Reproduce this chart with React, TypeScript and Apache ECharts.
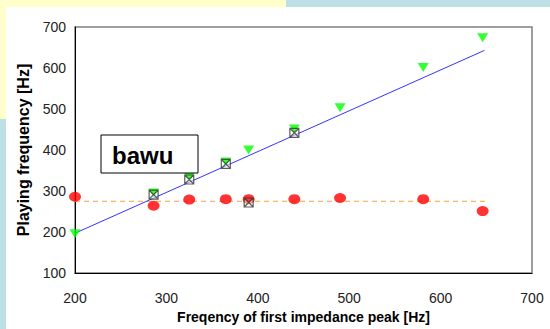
import React, { useEffect, useRef } from "react";
import * as echarts from "echarts";

const xTicks = [200, 300, 400, 500, 600, 700];
const yTicks = [100, 200, 300, 400, 500, 600, 700];

const redX = [200, 286, 325, 365, 390, 440, 490, 581, 646];
const redY = [286, 264, 279, 280, 280, 280, 283, 280, 251];

const greenX = [200, 286, 325, 365, 390, 440, 490, 581, 646];
const greenY = [196, 295, 334, 371, 400, 451, 503, 601, 674];

const boxX = [286, 325, 365, 390, 440];
const boxY = [291, 328, 366, 272, 442];

const fitX = [200, 648];
const fitY = [197, 643];

const meanX = [200, 650];
const meanY = [275, 275];

const zip = (a: number[], b: number[]) => a.map((v, i) => [v, b[i]]);

export default function App() {
  const ref = useRef<HTMLDivElement>(null);
  useEffect(() => {
    if (!ref.current) return;
    const chart = echarts.init(ref.current, null, { renderer: "svg" });
    const font = "Liberation Sans, Arial, sans-serif";
    chart.setOption({
      animation: false,
      backgroundColor: "#ffffff",
      grid: {
        left: 75,
        right: 18,
        top: 27,
        bottom: 50,
        show: true,
        borderColor: "#808080",
        borderWidth: 1.5,
        backgroundColor: "transparent",
      },
      graphic: [
        { type: "rect", shape: { x: 0, y: 0, width: 286, height: 7 }, style: { fill: "#FFFFCC" }, silent: true },
        { type: "rect", shape: { x: 286, y: 0, width: 264, height: 7 }, style: { fill: "#BCE0E5" }, silent: true },
        { type: "rect", shape: { x: 0, y: 0, width: 6, height: 119 }, style: { fill: "#FFFFCC" }, silent: true },
        { type: "rect", shape: { x: 0, y: 119, width: 6, height: 210 }, style: { fill: "#BCE0E5" }, silent: true },
        {
          type: "rect",
          shape: { x: 101, y: 135, width: 97, height: 38 },
          style: { fill: "#ffffff", stroke: "#000000", lineWidth: 1 },
          z: 10,
        },
        {
          type: "text",
          x: 112,
          y: 155,
          style: {
            text: "bawu",
            font: "bold 24px Liberation Sans, Arial, sans-serif",
            fill: "#000000",
            verticalAlign: "middle",
          },
          z: 11,
        },
      ],
      xAxis: {
        type: "value",
        min: 200,
        max: 700,
        interval: 100,
        name: "Freqency of first impedance peak [Hz]",
        nameLocation: "middle",
        nameGap: 37,
        nameTextStyle: { fontFamily: font, fontSize: 14, fontWeight: "bold", color: "#000" },
        axisLine: { show: true, onZero: false, lineStyle: { color: "#000", width: 1 } },
        axisTick: { show: false },
        splitLine: { show: false },
        axisLabel: {
          fontFamily: font,
          fontSize: 14,
          color: "#222",
          margin: 18,
          formatter: (v: number) => (xTicks.includes(v) ? String(v) : ""),
        },
      },
      yAxis: {
        type: "value",
        min: 100,
        max: 700,
        interval: 100,
        name: "Playing frequency [Hz]",
        nameLocation: "middle",
        nameGap: 38,
        nameTextStyle: { fontFamily: font, fontSize: 16, fontWeight: "bold", color: "#000" },
        axisLine: { show: true, onZero: false, lineStyle: { color: "#000", width: 1 } },
        axisTick: { show: false },
        splitLine: { show: false },
        axisLabel: {
          fontFamily: font,
          fontSize: 14,
          color: "#222",
          margin: 9,
          formatter: (v: number) => (yTicks.includes(v) ? String(v) : ""),
        },
      },
      series: [
        {
          type: "line",
          data: zip(meanX, meanY),
          symbol: "none",
          lineStyle: { color: "#F5A040", width: 1, type: [5, 4] },
          z: 2,
        },
        {
          type: "line",
          data: zip(fitX, fitY),
          symbol: "none",
          lineStyle: { color: "#3333FF", width: 1 },
          z: 2,
        },
        {
          type: "scatter",
          data: zip(redX, redY),
          symbol: "circle",
          symbolSize: [12, 10],
          itemStyle: { color: "#FF0000" },
          z: 3,
        },
        {
          type: "scatter",
          data: zip(greenX, greenY),
          symbol: "triangle",
          symbolRotate: 180,
          symbolSize: [11, 9],
          itemStyle: { color: "#00FF00" },
          z: 4,
        },
        {
          type: "scatter",
          data: zip(boxX, boxY),
          symbol: "path://M0,0H10V10H0Z M0,0L5,5L10,0 M0,10L5,5L10,10",
          symbolSize: 9,
          itemStyle: { color: "rgba(255,255,255,0.6)", borderColor: "#333", borderWidth: 1.2 },
          z: 5,
        },
      ],
    });
    return () => chart.dispose();
  }, []);
  return (
    <div
      ref={ref}
      style={{ position: "fixed", left: 0, top: 0, width: 550, height: 329 }}
    />
  );
}
